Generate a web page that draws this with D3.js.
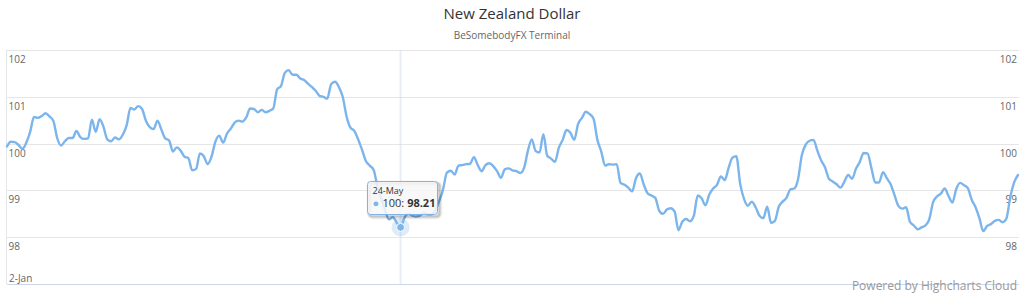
<!DOCTYPE html>
<html><head><meta charset="utf-8">
<script src="https://cdn.jsdelivr.net/npm/d3@7"></script>
<style>
html,body{margin:0;padding:0;background:#fff;overflow:hidden;}
svg{display:block;font-family:"Open Sans",sans-serif;}
</style></head><body><svg id="chart" width="1024" height="294"></svg>
<script>
const chartTitle = "New Zealand Dollar";
const chartSubtitle = "BeSomebodyFX Terminal";
const seriesName = "100";
const yTicks = [98, 99, 100, 101, 102];
const yDomain = [97, 102];
const xTickLabels = ["2-Jan"];
const startDate = "2018-01-02";
const hoveredCategory = "24-May";
const creditsText = "Powered by Highcharts Cloud";
const values = [
 99.94,100.04,100.03,99.97,99.89,100.02,100.25,100.57,100.55,100.59,
 100.65,100.58,100.49,100.12,99.96,100.05,100.12,100.12,100.27,100.14,
 100.10,100.11,100.51,100.25,100.52,100.36,100.09,100.05,100.13,100.09,
 100.19,100.39,100.76,100.73,100.80,100.74,100.49,100.35,100.31,100.49,
 100.30,100.11,100.07,99.83,99.92,99.85,99.72,99.69,99.43,99.46,
 99.79,99.73,99.56,99.72,100.04,100.17,100.02,100.21,100.32,100.45,
 100.49,100.47,100.56,100.75,100.74,100.67,100.72,100.67,100.70,100.75,
 101.16,101.23,101.51,101.57,101.47,101.47,101.39,101.36,101.28,101.21,
 101.13,101.02,101.00,100.96,101.27,101.32,101.21,101.00,100.58,100.34,
 100.27,100.09,99.87,99.63,99.53,99.44,99.08,98.82,98.57,98.38,
 98.43,98.31,98.21,98.42,98.50,98.46,98.44,98.46,98.52,98.49,
 98.49,98.57,98.77,99.02,99.38,99.42,99.34,99.53,99.54,99.56,
 99.57,99.71,99.54,99.41,99.54,99.58,99.52,99.41,99.27,99.45,
 99.47,99.43,99.41,99.37,99.48,99.85,100.09,99.84,99.81,100.20,
 99.74,99.68,99.61,99.91,100.08,100.29,100.23,100.08,100.42,100.55,
 100.68,100.63,100.53,100.08,99.83,99.53,99.56,99.55,99.56,99.16,
 99.12,99.06,98.98,99.26,99.36,99.13,98.94,98.89,98.84,98.57,
 98.50,98.59,98.62,98.55,98.15,98.33,98.39,98.34,98.46,98.89,
 98.83,98.68,98.91,99.04,99.12,99.30,99.22,99.48,99.70,99.73,
 99.14,98.82,98.67,98.76,98.64,98.46,98.41,98.65,98.31,98.35,
 98.65,98.76,98.84,99.02,99.04,99.24,99.76,99.98,100.06,100.08,
 99.85,99.64,99.49,99.25,99.19,99.13,99.06,99.19,99.33,99.25,
 99.46,99.61,99.80,99.79,99.48,99.17,99.17,99.39,99.26,99.13,
 98.90,98.67,98.61,98.64,98.33,98.25,98.17,98.21,98.25,98.38,
 98.75,98.87,98.93,99.04,98.88,98.74,99.03,99.16,99.11,99.05,
 98.80,98.64,98.41,98.13,98.24,98.28,98.35,98.37,98.32,98.40,
 98.86,99.17,99.33
];

// categories: consecutive weekdays from the start date
const fmt = d3.timeFormat("%-d-%b");
const start = d3.timeParse("%Y-%m-%d")(startDate);
const days = d3.timeDay.range(start, d3.timeDay.offset(start, 400)).filter(d => d.getDay() !== 0 && d.getDay() !== 6);
const categories = days.slice(0, values.length).map(fmt);
const data = values.map((v, i) => ({i, cat: categories[i], v}));

const svg = d3.select("#chart");
const W = 1024, H = 294;
const plot = {left: 7, right: 1018, top: 50, bottom: 284};

const x = d3.scalePoint().domain(d3.range(values.length)).range([plot.left, plot.right]);
const y = d3.scaleLinear().domain(yDomain).range([plot.bottom, plot.top]);
const crisp = v => Math.round(v) + 0.5;
const catIndex = c => categories.indexOf(c);

// title / subtitle
svg.append("text").attr("x", W/2).attr("y", 19).attr("text-anchor", "middle")
  .attr("font-size", 15).attr("fill", "#333").text(chartTitle);
svg.append("text").attr("x", W/2).attr("y", 39).attr("text-anchor", "middle")
  .attr("font-size", 10).attr("fill", "#666").text(chartSubtitle);

// grid lines
const grid = svg.append("g");
grid.selectAll("line.h").data(yTicks).join("line")
  .attr("x1", plot.left).attr("x2", plot.right + 1)
  .attr("y1", d => crisp(y(d))).attr("y2", d => crisp(y(d)))
  .attr("stroke", "#e6e6e6").attr("stroke-width", 1);
grid.selectAll("line.v").data(xTickLabels).join("line")
  .attr("x1", d => crisp(x(catIndex(d))) - 1).attr("x2", d => crisp(x(catIndex(d))) - 1)
  .attr("y1", plot.top).attr("y2", plot.bottom)
  .attr("stroke", "#e6e6e6");

// crosshair
const hi = catIndex(hoveredCategory);
svg.append("rect")
  .attr("x", x(hi) - 1).attr("width", 2)
  .attr("y", plot.top).attr("height", plot.bottom - plot.top)
  .attr("fill", "rgba(204,214,235,0.45)");

// x axis line
svg.append("line").attr("x1", plot.left).attr("x2", plot.right + 1)
  .attr("y1", crisp(plot.bottom)).attr("y2", crisp(plot.bottom))
  .attr("stroke", "#ccd6eb");

// y axis labels (left and right)
const yl = svg.append("g").attr("font-size", 10).attr("fill", "#666");
yl.selectAll("text.l").data(yTicks).join("text")
  .attr("x", plot.left + 1.5).attr("y", d => y(d) + 13)
  .text(d => d);
yl.selectAll("text.r").data(yTicks).join("text")
  .attr("x", plot.right - 1).attr("y", d => y(d) + 13).attr("text-anchor", "end")
  .text(d => d);

// x label
svg.append("g").attr("font-size", 10).attr("fill", "#666")
  .selectAll("text").data(xTickLabels).join("text")
  .attr("x", d => x(catIndex(d)) + 2).attr("y", 282).text(d => d);

// line
const line = d3.line().x(d => x(d.i)).y(d => y(d.v)).curve(d3.curveMonotoneX);
svg.append("path").datum(data).attr("d", line)
  .attr("fill", "none").attr("stroke", "#7cb5ec").attr("stroke-width", 2.4)
  .attr("stroke-linejoin", "round").attr("stroke-linecap", "round");

// hovered point
const hp = data[hi];
const hx = x(hi), hy = y(hp.v);
svg.append("circle").attr("cx", hx).attr("cy", hy).attr("r", 9)
  .attr("fill", "#7cb5ec").attr("fill-opacity", 0.25);
svg.append("circle").attr("cx", hx).attr("cy", hy).attr("r", 4)
  .attr("fill", "#7cb5ec").attr("stroke", "#fff").attr("stroke-width", 1);

// tooltip
const tt = svg.append("g").attr("transform", `translate(${Math.round(hx - 34) + 0.5},${Math.round(hy - 46) + 0.5})`);
const tw = 70, th = 33;
[3, 2, 1].forEach(k => tt.append("rect").attr("x", 1).attr("y", 1).attr("width", tw).attr("height", th)
  .attr("rx", 3).attr("fill", "none").attr("stroke", "#000").attr("stroke-opacity", 0.04 * k)
  .attr("stroke-width", 2 * (4 - k)).attr("transform", "translate(1,1)"));
tt.append("rect").attr("width", tw).attr("height", th).attr("rx", 3)
  .attr("fill", "rgba(247,247,247,0.85)").attr("stroke", "#7cb5ec").attr("stroke-width", 1);
tt.append("text").attr("x", 5).attr("y", 12).attr("font-size", 9).attr("fill", "#333").text(hp.cat);
tt.append("text").attr("x", 5).attr("y", 25).attr("font-size", 11).attr("fill", "#7cb5ec").text("\u25CF");
const t2 = tt.append("text").attr("x", 15).attr("y", 25).attr("font-size", 11).attr("fill", "#333");
t2.append("tspan").text(seriesName + ": ");
t2.append("tspan").attr("font-weight", "bold").text(hp.v.toFixed(2));

// credits
svg.append("text").attr("x", 1017).attr("y", 290).attr("text-anchor", "end")
  .attr("font-size", 12).attr("fill", "#999").text(creditsText);
</script></body></html>
